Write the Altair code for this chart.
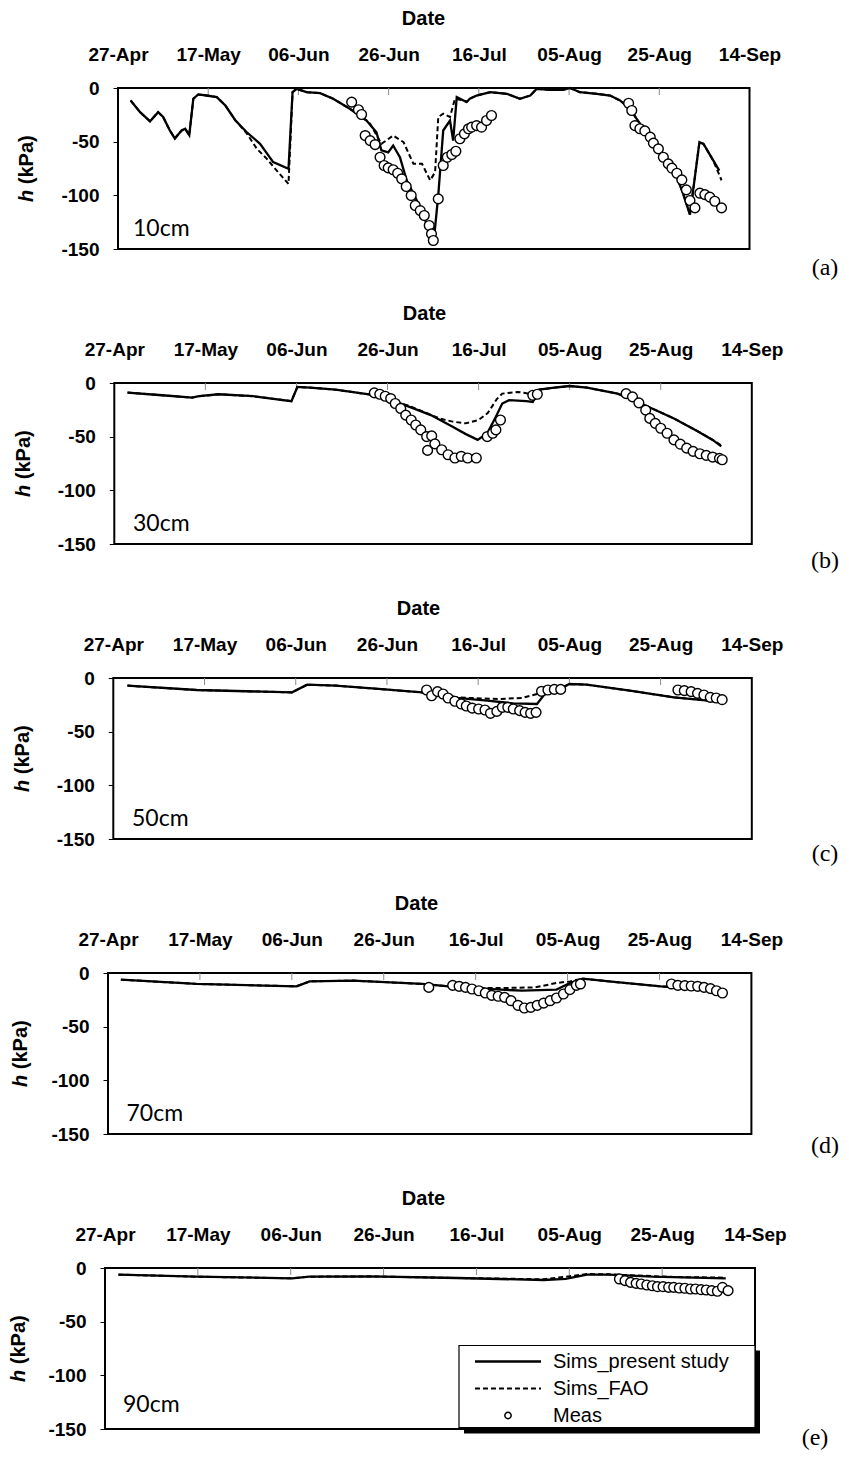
import altair as alt
import pandas as pd

# ---------------- data (days after 27-Apr, pressure head kPa) ----------------
START = pd.Timestamp("2011-04-27")
TICK_DAYS = [0, 20, 40, 60, 80, 100, 120, 140]
Y_TICKS = [-150, -100, -50, 0]
DEPTHS = ["10cm", "30cm", "50cm", "70cm", "90cm"]
LETTERS = ["(a)", "(b)", "(c)", "(d)", "(e)"]
LEGEND_LABELS = ["Sims_present study", "Sims_FAO", "Meas"]

# 10 cm
pres_a_d = [2.8, 4.9, 7.1, 8.9, 10.0, 11.5, 12.6, 14.1, 14.9, 15.8, 16.7, 17.8, 19.6, 21.9, 23.8,
            26.0, 28.5, 31.5, 34.4, 37.8, 38.7, 39.6, 41.8, 44.8, 47.7, 51.4, 55.1, 57.3, 58.4, 59.9,
            61.0, 62.5, 64.0, 65.5, 67.7, 69.2, 69.9, 71.0, 72.1, 73.6, 74.3, 75.1, 76.6, 77.3, 78.0,
            79.5, 82.5, 86.2, 89.1, 91.4, 92.8, 95.8, 98.7, 100.2, 102.4, 106.1, 109.1, 111.3, 113.5, 117.2,
            121.6, 123.9, 125.3, 126.8, 128.9, 129.8, 132.0, 133.3]
pres_a_h = [-11.6, -22.5, -31, -22.5, -27, -39.6, -47, -39.6, -38, -44, -10, -6, -7, -8.5, -16.3,
            -30, -41, -52, -69, -75.3, -3.9, -0.8, -3.9, -4.8, -10, -19.4, -30.3, -41.2, -58, -60,
            -53.6, -64.5, -86, -98.6, -117, -139, -146.8, -100, -39.6, -30.3, -49, -8.5, -11.6, -13, -10,
            -7, -3.9, -5.4, -10, -7, -0.8, -1.7, -1.7, 0, -3.9, -5.4, -7, -11.6, -19.4, -42.7,
            -67.6, -83, -98.6, -118, -50.5, -52, -67.6, -77]
fao_a_d = [2.8, 4.9, 7.1, 8.9, 10.0, 11.5, 12.6, 14.1, 14.9, 15.8, 16.7, 17.8, 19.6, 21.9, 23.8,
           26.0, 28.5, 30.8, 33.0, 35.2, 37.8, 38.7, 39.6, 41.8, 44.8, 47.7, 51.4, 55.1, 55.9, 58.4,
           61.0, 63.3, 65.5, 67.4, 69.2, 70.3, 71.0, 72.1, 73.6, 74.7, 76.6, 77.3, 78.0, 79.5, 82.5,
           86.2, 89.1, 91.4, 92.8, 95.8, 98.7, 100.2, 102.4, 106.1, 109.1, 111.3, 113.5, 117.2, 121.6, 123.9,
           125.3, 126.8, 128.9, 129.8, 132.0, 133.8]
fao_a_h = [-11.6, -22.5, -31, -22.5, -27, -39.6, -47, -39.6, -38, -44, -10, -6, -7, -8.5, -16.3,
           -30, -42, -56.7, -66, -77, -89.3, -3.9, -0.8, -3.9, -4.8, -10, -19.4, -30.3, -33.4, -52,
           -44.3, -50.5, -70.6, -70.6, -86, -78.5, -27, -24, -27, -10, -11.6, -13, -10, -7, -3.9,
           -5.4, -10, -7, -0.8, -1.7, -1.7, 0, -3.9, -5.4, -7, -11.6, -19.4, -42.7, -67.6, -83,
           -98.6, -118, -50.5, -52, -68, -86]
meas_a_d = [51.8, 53.3, 54.0, 54.8, 55.9, 57.0, 58.1, 59.0, 59.9, 61.0, 62.0, 62.9, 63.9, 65.0, 65.9,
            67.0, 67.9, 69.0, 69.5, 69.9, 71.0, 72.1, 73.0, 74.0, 74.9, 75.8, 76.8, 77.7, 78.4, 79.5,
            80.6, 81.7, 82.8,
            113.2, 113.9, 114.6, 115.7, 116.8, 118.0, 118.7, 119.8, 120.9, 122.0, 122.8, 123.9, 125.0,
            126.0, 126.8, 127.9, 129.0, 130.1, 131.2, 132.3, 133.8]
meas_a_h = [-13.2, -20.3, -24.7, -44.3, -49, -52.7, -64.5, -72.2, -74.4, -76.2, -79.4, -84.6, -91.8, -100.2, -109.5,
            -114.2, -118.8, -128.1, -135.9, -142.1, -103.3, -72.2, -64.5, -62, -58.9, -47.3, -42.7, -38, -36.5, -35,
            -36.5, -30.3, -25.6,
            -14.2, -21, -35, -38, -40, -45.8, -51.4, -56.7, -64.5, -70.7, -74.7, -79.4, -85.6,
            -94.9, -104.8, -111.7, -98, -99.3, -101.7, -105.5, -111.7]

# 30 cm
pres_b_d = [2.9, 10.5, 17.1, 18.6, 22.9, 30.5, 38.9, 40.2, 42.9, 48.6, 57.1, 61.9, 65.7, 69.5, 74.3,
            77.1, 79.8, 81.9, 83.8, 85.2, 86.7, 90.5, 91.9, 93.3, 96.2, 100.0, 103.8, 110.5, 113.3, 118.1,
            122.9, 127.6, 131.4, 133.3]
pres_b_h = [-8.9, -11.4, -13.6, -12.3, -10.5, -12.3, -16.9, -3.7, -4.3, -6.2, -11.4, -17.6, -23.7, -29.9, -40.7,
            -47.4, -53, -46.8, -31.4, -19.1, -16, -16.9, -17.6, -6.2, -4.6, -2.8, -4.3, -9.9, -14.5, -23.7,
            -33, -43.7, -53, -59.1]
fao_b_d = [2.9, 10.5, 17.1, 18.6, 22.9, 30.5, 38.9, 40.2, 42.9, 48.6, 57.1, 61.9, 64.5, 68.0, 71.4,
           74.3, 77.1, 80.0, 82.0, 82.9, 84.0, 85.2, 88.6, 90.5, 91.9, 93.3, 96.2, 100.0, 103.8, 110.5,
           113.3, 118.1, 122.9, 127.6, 131.4, 133.3]
fao_b_h = [-8.9, -11.4, -13.6, -12.3, -10.5, -12.3, -16.9, -3.7, -4.3, -6.2, -11.4, -17.6, -21, -27, -33,
           -36, -37.6, -34.5, -28, -22.2, -15, -9.9, -8.3, -9.5, -11.4, -6.2, -4.6, -2.8, -4.3, -9.9,
           -14.5, -23.7, -33, -43.7, -53, -58]
meas_b_d = [57.1, 58.3, 59.5, 60.7, 61.7, 62.9, 64.0, 65.2, 66.2, 67.3, 68.6, 69.7, 68.8, 70.4, 71.9,
            73.3, 74.8, 76.2, 77.6, 79.5, 81.9, 83.1, 83.8, 84.8, 91.9, 92.9,
            112.4, 113.8, 115.2, 116.7, 117.6, 118.8, 120.0, 121.4, 122.9, 124.3, 125.7, 127.1, 128.6, 130.0,
            131.4, 132.9, 133.5]
meas_b_h = [-9.2, -10.5, -12.3, -14.5, -19.1, -23.7, -29.9, -34.5, -39.1, -43.7, -49.9, -49.3, -62.8, -56.7, -62.2,
            -66.8, -69.9, -68.3, -69.9, -69.9, -49.9, -46.8, -43.7, -34.5, -11.4, -10.5,
            -9.9, -12.9, -18.5, -25.3, -33, -37.6, -42.2, -46.8, -53, -57, -60.7, -63.7, -65.9, -67.4,
            -69, -70.2, -71.5]

# 50 cm
pres_c_d = [3.1, 18.3, 39.2, 42.5, 48.7, 58.2, 67.7, 73.4, 75.3, 82.0, 87.7, 92.9, 94.3, 96.2, 98.6,
            100.0, 103.8, 113.3, 122.9, 130.5, 133.3]
pres_c_h = [-7.1, -11.2, -13.4, -6.2, -7.1, -10.2, -13.4, -16.5, -18.6, -21.1, -23.6, -24.2, -16.5, -10.2, -8.7,
            -5.6, -6.2, -11.8, -18, -21.1, -22.7]
fao_c_d = [3.1, 18.3, 39.2, 42.5, 48.7, 58.2, 67.7, 73.4, 75.3, 78.2, 84.8, 89.6, 92.9, 94.3, 96.2,
           98.6, 100.0, 103.8, 113.3, 122.9, 130.5, 133.3]
fao_c_h = [-7.1, -11.2, -13.4, -6.2, -7.1, -10.2, -13.4, -16.5, -18.0, -18.6, -19.6, -18.6, -14.9, -11.8, -10.2,
           -8.7, -5.6, -6.2, -11.8, -18, -21.1, -22.7]
meas_c_d = [68.7, 69.8, 71.1, 72.3, 73.4, 74.9, 76.3, 77.4, 78.7, 80.1, 81.5, 82.7, 84.1, 85.3, 86.5,
            87.7, 89.1, 90.3, 91.5, 92.7, 93.9, 95.3, 96.7, 98.1,
            123.8, 125.2, 126.7, 128.1, 129.5, 130.9, 132.2, 133.5]
meas_c_h = [-11.2, -16.5, -12.7, -14.9, -18.6, -21.7, -24.2, -26.1, -28, -28.9, -29.8, -32.9, -31.1, -27.3, -27.3,
            -28.9, -30.4, -32, -32.9, -32, -12.4, -11.2, -10.6, -10.6,
            -11.2, -11.8, -12.7, -14.3, -15.8, -18, -18.6, -20.2]

# 70 cm
pres_d_d = [2.8, 19.3, 41.0, 43.9, 53.3, 68.4, 74.1, 81.6, 90.1, 97.6, 100.5, 103.3, 109.0, 120.3, 131.6, 134.4]
pres_d_h = [-6.2, -10.2, -12.4, -7.8, -7.1, -10.2, -12.4, -14.6, -16.5, -15.5, -9.3, -5.3, -7.8, -12.4, -15.5, -18.6]
fao_d_d = [2.8, 19.3, 41.0, 43.9, 53.3, 68.4, 74.1, 81.6, 85.4, 92.9, 97.6, 100.5, 103.3, 109.0, 120.3, 131.6, 134.4]
fao_d_h = [-6.2, -10.2, -12.4, -7.8, -7.1, -10.2, -12.4, -14.0, -14.0, -13.4, -9.3, -7.8, -5.3, -7.8, -12.4, -15.5, -18.6]
meas_d_d = [69.8, 75.0, 76.4, 77.8, 79.2, 80.7, 82.1, 83.5, 84.9, 86.3, 87.7, 89.2, 90.6, 92.0, 93.4,
            94.8, 96.2, 97.6, 99.1, 100.5, 101.9, 102.8,
            122.6, 124.0, 125.5, 126.9, 128.3, 129.7, 131.1, 132.4, 133.7]
meas_d_h = [-13.4, -11.5, -12.4, -13.4, -14.9, -16.5, -18.6, -20.8, -21.7, -22.7, -25.8, -30.1, -32.6, -32, -30.1,
            -28, -25.8, -23.3, -19.6, -15.5, -11.5, -10.2,
            -10.2, -11.5, -11.8, -12.1, -12.4, -13.4, -14.6, -16.5, -18.6]

# 90 cm
pres_e_d = [2.9, 19.7, 40.3, 44.0, 57.1, 75.8, 94.5, 99.2, 103.8, 108.5, 117.9, 133.7]
pres_e_h = [-6.2, -8.1, -9.6, -8.1, -7.8, -9.3, -11.2, -10.2, -6.2, -6.2, -8.1, -9.6]
fao_e_d = [2.9, 19.7, 40.3, 44.0, 57.1, 75.8, 94.5, 99.2, 103.8, 108.5, 122.5, 133.7]
fao_e_h = [-6.2, -8.1, -9.6, -8.1, -7.8, -9.3, -10.5, -8.1, -5.6, -5.9, -8.4, -9.0]
meas_e_d = [110.8, 112.0, 113.2, 114.4, 115.5, 116.7, 117.9, 119.0, 120.2, 121.4, 122.5, 123.7, 124.9, 126.1,
            127.2, 128.4, 129.5, 130.7, 131.9, 133.0, 134.2]
meas_e_h = [-10.2, -11.8, -13.4, -14.3, -14.9, -15.8, -16.5, -17.4, -17.4, -18, -18, -18.6, -18.9, -19.6,
            -19.6, -20.2, -20.5, -21.1, -21.7, -18, -21.1]


def ms(days):
    return [int((START + pd.Timedelta(days=float(d))).value // 10**6) for d in days]


def frame(days, vals):
    return pd.DataFrame({"t": ms(days), "h": vals})


# ---------------- layout (page pixels) ----------------
O = 118          # common plot origin (page x)
W = 637          # common plot width
H = 161
SANS = "Liberation Sans"
GEOM = [
    dict(left=118.0, right=749.5, ytitle=26.7, date=423, depth=(133, 147.5), letter=(825, 186.5)),
    dict(left=114.3, right=751.8, ytitle=24.0, date=424, depth=(133, 147.5), letter=(825, 184.5)),
    dict(left=113.3, right=751.8, ytitle=23.0, date=418, depth=(132, 147.5), letter=(825, 182.5)),
    dict(left=108.0, right=751.4, ytitle=21.0, date=416, depth=(126.5, 147.5), letter=(825, 179.5)),
    dict(left=105.0, right=755.0, ytitle=19.0, date=423, depth=(123, 144.0), letter=(815, 176.5)),
]
one = pd.DataFrame({"k": [0]})


def make_panel(i, pd_, ph_, fd_, fh_, md_, mh_):
    g = GEOM[i]
    xs = alt.Scale(type="utc", domain=ms([TICK_DAYS[0], TICK_DAYS[-1]]),
                   range=[g["left"] - O, g["right"] - O], nice=False)
    xaxis = alt.Axis(orient="top", values=ms(TICK_DAYS),
                     labelExpr="utcFormat(datum.value, '%d-%b')",
                     title="Date", titleX=g["date"] - O, titleY=-64, titleBaseline="alphabetic",
                     titleFont=SANS, titleFontSize=20, titleFontWeight="bold", titleColor="black",
                     labelFont=SANS, labelFontSize=19, labelFontWeight="bold", labelColor="black",
                     labelBaseline="alphabetic", labelPadding=28, ticks=False, domain=False, grid=False,
                     labelFlush=False, labelOverlap=False, labelBound=False)
    ys = alt.Scale(domain=[-150, 0], nice=False, zero=False)
    yaxis = alt.Axis(values=Y_TICKS, title=None, offset=O - g["left"], domain=False, grid=False,
                     labelExpr="'' + datum.value",
                     ticks=True, tickSize=5, tickColor="black", tickWidth=1,
                     labelFont=SANS, labelFontSize=19, labelFontWeight="bold", labelColor="black",
                     labelPadding=14, labelFlush=False, labelOverlap=False)
    X = alt.X("t:T", scale=xs, axis=xaxis)
    Y = alt.Y("h:Q", scale=ys, axis=yaxis)

    box_df = pd.DataFrame({"t": ms([TICK_DAYS[0]]), "t2": ms([TICK_DAYS[-1]]),
                           "h": [Y_TICKS[0]], "h2": [Y_TICKS[-1]]})
    box = alt.Chart(box_df).mark_rect(fillOpacity=0, stroke="black", strokeWidth=2).encode(
        x=X, x2="t2:T", y=Y, y2="h2:Q")
    tick_df = pd.DataFrame({"t": ms(TICK_DAYS[1:-1])})
    ticks = alt.Chart(tick_df).mark_rule(color="#8c8c8c", strokeWidth=1).encode(
        x=X, y=alt.value(0), y2=alt.value(7))
    fao = alt.Chart(frame(fd_, fh_)).mark_line(color="black", strokeWidth=2, strokeDash=[5, 3]).encode(x=X, y=Y)
    pres = alt.Chart(frame(pd_, ph_)).mark_line(color="black", strokeWidth=2.3).encode(x=X, y=Y)
    meas = alt.Chart(frame(md_, mh_)).mark_point(shape="circle", fill="white", stroke="black",
                                                 strokeWidth=1.4, size=95, opacity=1, fillOpacity=1).encode(x=X, y=Y)
    depth = alt.Chart(one).mark_text(text=DEPTHS[i], font="Lato", fontSize=23, align="left",
                                     baseline="alphabetic", color="black").encode(
        x=alt.value(g["depth"][0] - O), y=alt.value(g["depth"][1]))
    letter = alt.Chart(one).mark_text(text=LETTERS[i], font="Liberation Serif", fontSize=24, align="center",
                                      baseline="alphabetic", color="black").encode(
        x=alt.value(g["letter"][0] - O), y=alt.value(g["letter"][1]))
    ty0 = 114
    yt_h = alt.Chart(one).mark_text(text="h", font=SANS, fontSize=20, fontWeight="bold", fontStyle="italic",
                                    angle=270, align="left", baseline="middle", color="black").encode(
        x=alt.value(g["ytitle"] - O), y=alt.value(ty0))
    yt_u = alt.Chart(one).mark_text(text="(kPa)", font=SANS, fontSize=20, fontWeight="bold",
                                    angle=270, align="left", baseline="middle", color="black").encode(
        x=alt.value(g["ytitle"] - O), y=alt.value(ty0 - 17.8))
    layers = [box, ticks, fao, pres, meas, depth, letter, yt_h, yt_u]

    if i == 0:
        anchor = alt.Chart(one).mark_rule(strokeOpacity=0, strokeWidth=0.5).encode(
            x=alt.value(8 - O), x2=alt.value(8 - O), y=alt.value(8 - 87.5), y2=alt.value(8 - 87.5))
        layers.append(anchor)

    if i == 4:
        shadow = alt.Chart(one).mark_rect(color="black").encode(
            x=alt.value(346), x2=alt.value(642), y=alt.value(82.5), y2=alt.value(165.5))
        lbox = alt.Chart(one).mark_rect(fill="white", stroke="black", strokeWidth=1.2).encode(
            x=alt.value(341), x2=alt.value(637), y=alt.value(77.5), y2=alt.value(159.5))
        l1 = alt.Chart(one).mark_rule(color="black", strokeWidth=2.3).encode(
            x=alt.value(357), x2=alt.value(423), y=alt.value(93.5))
        l2 = alt.Chart(one).mark_rule(color="black", strokeWidth=2, strokeDash=[5, 3]).encode(
            x=alt.value(357), x2=alt.value(423), y=alt.value(120.5))
        l3 = alt.Chart(one).mark_point(shape="circle", fill="white", stroke="black", strokeWidth=1.5,
                                       size=40, opacity=1, fillOpacity=1).encode(
            x=alt.value(390), y=alt.value(147.5))
        texts = []
        for j, lab in enumerate(LEGEND_LABELS):
            texts.append(alt.Chart(one).mark_text(text=lab, font=SANS, fontSize=20, align="left",
                                                  baseline="middle", color="black").encode(
                x=alt.value(435), y=alt.value(93.5 + 27 * j)))
        layers += [shadow, lbox, l1, l2, l3] + texts

    return alt.layer(*layers).properties(width=W, height=H)


panels = [
    make_panel(0, pres_a_d, pres_a_h, fao_a_d, fao_a_h, meas_a_d, meas_a_h),
    make_panel(1, pres_b_d, pres_b_h, fao_b_d, fao_b_h, meas_b_d, meas_b_h),
    make_panel(2, pres_c_d, pres_c_h, fao_c_d, fao_c_h, meas_c_d, meas_c_h),
    make_panel(3, pres_d_d, pres_d_h, fao_d_d, fao_d_h, meas_d_d, meas_d_h),
    make_panel(4, pres_e_d, pres_e_h, fao_e_d, fao_e_h, meas_e_d, meas_e_h),
]

chart = alt.vconcat(*panels, spacing=134, bounds="flush").properties(
    padding=0, background="white"
).configure_view(strokeWidth=0)

chart.save("out.html", embed_options={"renderer": "svg", "actions": False})
